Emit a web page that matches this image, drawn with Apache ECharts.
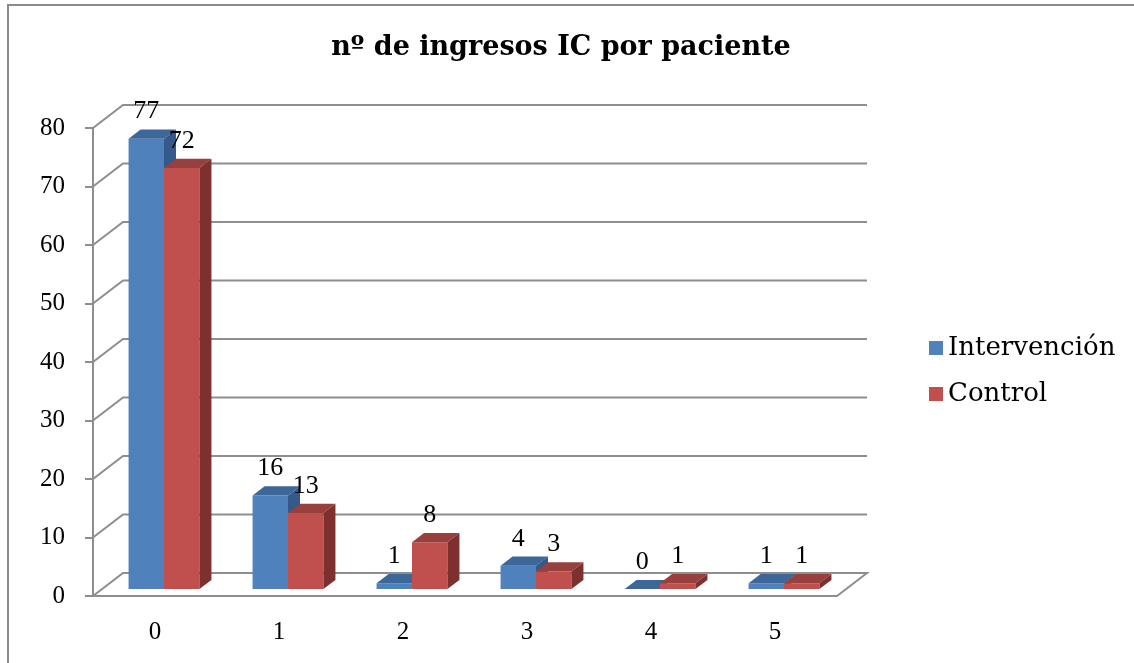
<!DOCTYPE html>
<html>
<head>
<meta charset="utf-8">
<title>nº de ingresos IC por paciente</title>
<script src="https://cdn.jsdelivr.net/npm/echarts@6/dist/echarts.min.js"></script>
<style>
  html, body { margin: 0; padding: 0; background: #ffffff; }
  #chart { width: 1134px; height: 663px; }
</style>
</head>
<body>
<div id="chart"></div>
<script>
// Number of HF admissions per patient, by study arm
const categories = ['0', '1', '2', '3', '4', '5'];
const intervencion = [77, 16, 1, 4, 0, 1];
const control = [72, 13, 8, 3, 1, 1];
const yTicks = [0, 10, 20, 30, 40, 50, 60, 70, 80];

// 3D look: depth offset of the back wall, and where the bars sit inside the depth
const DX = 30, DY = -23;
const T0 = 0.3, T1 = 0.7;
const GAP = 1.5;                 // gap between clusters, as a fraction of one bar
const FONT = 'DejaVu Serif';
const NUM_FONT = 'Liberation Serif';
const GRID_COLOR = '#8e8e8e';

const palettes = [
  { front: '#4F81BD', top: '#3D6799', side: '#35598A' },
  { front: '#C0504D', top: '#98403D', side: '#7D302E' }
];

function barRenderer(idx) {
  const pal = palettes[idx];
  return function (params, api) {
    const cat = api.value(0), v = api.value(1);
    const base = api.coord([cat, 0]);
    const top = api.coord([cat, v]);
    const band = api.size([1, 0])[0];
    const bw = band / (2 + GAP);
    const fx = base[0] - bw + idx * bw + T0 * DX;
    const fy0 = base[1] + T0 * DY;
    const fy1 = top[1] + T0 * DY;
    const ddx = (T1 - T0) * DX, ddy = (T1 - T0) * DY;
    return {
      type: 'group',
      children: [
        { type: 'rect', shape: { x: fx, y: fy1, width: bw, height: fy0 - fy1 },
          style: { fill: pal.front } },
        { type: 'polygon', shape: { points: [[fx, fy1], [fx + bw, fy1], [fx + bw + ddx, fy1 + ddy], [fx + ddx, fy1 + ddy]] },
          style: { fill: pal.top } },
        { type: 'polygon', shape: { points: [[fx + bw, fy1], [fx + bw + ddx, fy1 + ddy], [fx + bw + ddx, fy0 + ddy], [fx + bw, fy0]] },
          style: { fill: pal.side } },
        { type: 'text', style: { x: fx + bw / 2, y: fy1 - 27, text: String(v), fill: '#000',
          font: '26px "' + NUM_FONT + '"', align: 'center', verticalAlign: 'middle' } }
      ]
    };
  };
}

// Back-wall gridlines with their diagonals down to the front value axis
function wallRenderer(params, api) {
  const v = api.value(1);
  const p = api.coord([0, v]);
  const cs = params.coordSys;
  const x0 = cs.x, x1 = cs.x + cs.width, y = p[1];
  const pts = v === 0
    ? [[x0, y], [x0 + DX, y + DY], [x1 + DX, y + DY], [x1, y]]
    : [[x0, y], [x0 + DX, y + DY], [x1 + DX, y + DY]];
  return { type: 'polyline', shape: { points: pts },
    style: { stroke: GRID_COLOR, lineWidth: 2, fill: null } };
}

const chart = echarts.init(document.getElementById('chart'));
chart.setOption({
  animation: false,
  backgroundColor: '#ffffff',
  title: {
    text: 'nº de ingresos IC por paciente',
    left: 556, top: 29, textAlign: 'center',
    textStyle: { fontFamily: FONT, fontWeight: 'bold', fontSize: 27, color: '#000' }
  },
  legend: {
    data: ['Intervención', 'Control'],
    orient: 'vertical', left: 924, top: 328,
    icon: 'rect', itemWidth: 14, itemHeight: 14, itemGap: 16,
    textStyle: { fontFamily: FONT, fontSize: 26, color: '#000', lineHeight: 30 }
  },
  graphic: [{
    type: 'rect', silent: true, z: 100,
    shape: { x: 8, y: 5, width: 1200, height: 700 },
    style: { fill: null, stroke: '#8a8a8a', lineWidth: 2 }
  }],
  grid: { left: 93, top: 128, width: 744, height: 468 },
  xAxis: {
    type: 'category', data: categories, boundaryGap: true,
    axisLine: { lineStyle: { color: GRID_COLOR, width: 2 } },
    axisTick: { length: 8, lineStyle: { color: GRID_COLOR, width: 2 } },
    axisLabel: { margin: 24, fontFamily: NUM_FONT, fontSize: 25, color: '#000' },
    splitLine: { show: false }
  },
  yAxis: {
    type: 'value', min: 0, max: 80, interval: 10,
    axisLine: { show: true, lineStyle: { color: GRID_COLOR, width: 2 } },
    axisTick: { show: true, length: 8, lineStyle: { color: GRID_COLOR, width: 2 } },
    axisLabel: { margin: 28, fontFamily: NUM_FONT, fontSize: 25, color: '#000',
      formatter: v => (yTicks.indexOf(v) >= 0 ? String(v) : '') },
    splitLine: { show: false }
  },
  series: [
    { type: 'custom', name: 'walls', z: 1, silent: true,
      data: yTicks.map(v => [0, v]), renderItem: wallRenderer },
    { type: 'custom', name: 'Intervención', z: 2,
      itemStyle: { color: palettes[0].front },
      data: intervencion.map((v, i) => [i, v]), renderItem: barRenderer(0) },
    { type: 'custom', name: 'Control', z: 3,
      itemStyle: { color: palettes[1].front },
      data: control.map((v, i) => [i, v]), renderItem: barRenderer(1) }
  ]
});
</script>
</body>
</html>
